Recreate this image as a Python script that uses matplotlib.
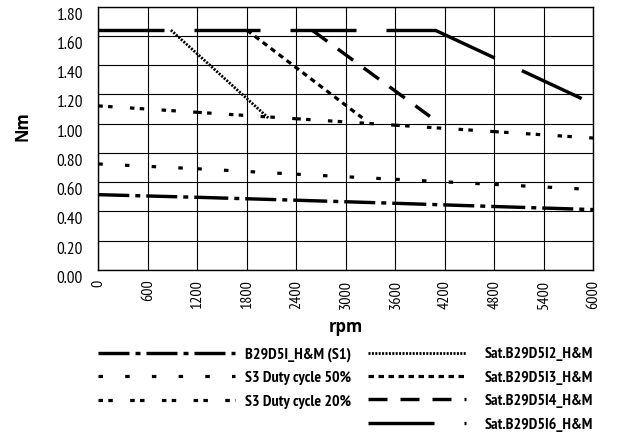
import matplotlib
matplotlib.use('agg')
import matplotlib.pyplot as plt
import matplotlib.transforms as mtransforms
from matplotlib import font_manager

## Torque curves (Nm) against speed (rpm)
rpm_ticks = [0, 600, 1200, 1800, 2400, 3000, 3600, 4200, 4800, 5400, 6000]
rpm_s = [0, 1200, 2400, 3600, 4800, 6000]
s1 = [0.515, 0.497, 0.477, 0.456, 0.434, 0.413]
s3_50 = [0.725, 0.692, 0.655, 0.620, 0.585, 0.550]
s3_20 = [1.122, 1.078, 1.034, 0.990, 0.946, 0.902]

sat_i2_rpm = [880, 2060]
sat_i2 = [1.64, 1.04]
sat_i3_rpm = [1800, 3200]
sat_i3 = [1.64, 1.04]
sat_i4_rpm = [2590, 4020]
sat_i4 = [1.64, 1.05]
sat_i6_rpm = [0, 4080, 6000]
sat_i6 = [1.64, 1.64, 1.135]

y_ticks = [0.0, 0.2, 0.4, 0.6, 0.8, 1.0, 1.2, 1.4, 1.6, 1.8]

PX = 0.72  # points per pixel at 100 dpi
installed = {f.name for f in font_manager.fontManager.ttflist}
wanted = ['PT Sans Narrow', 'Roboto Condensed', 'Archivo Narrow', 'Fira Sans Condensed',
          'IBM Plex Sans Condensed', 'Open Sans Condensed', 'Barlow Semi Condensed']
narrow = [f for f in wanted if f in installed][:1] + ['DejaVu Sans']

plt.rcParams['lines.scale_dashes'] = False
plt.rcParams['font.family'] = narrow


def draw(ax, xs, ys, label, lw, dashes):
    # dash pattern starts over at each data point
    for i in range(len(xs) - 1):
        ax.plot(xs[i:i + 2], ys[i:i + 2], color='black', lw=lw * PX,
                dashes=[d * PX for d in dashes],
                dash_capstyle='butt', solid_capstyle='butt',
                label=label if i == 0 else '_nolegend_')


fig = plt.figure(figsize=(6.18, 4.36), dpi=100)
ax = fig.add_axes([98.3 / 618, 1 - 270 / 436, 495 / 618, 263.3 / 436])

draw(ax, rpm_s, s1, 'B29D5I_H&M (S1)', 3.4, [31, 6, 5, 6])
draw(ax, rpm_s, s3_50, 'S3 Duty cycle 50%', 3.2, [4.5, 22.2])
draw(ax, rpm_s, s3_20, 'S3 Duty cycle 20%', 3.2, [4.5, 5.3, 4.5, 17.4])
draw(ax, sat_i2_rpm, sat_i2, 'Sat.B29D5I2_H&M', 2.8, [2, 1.4])
draw(ax, sat_i3_rpm, sat_i3, 'Sat.B29D5I3_H&M', 3.2, [5.5, 4.5])
draw(ax, sat_i4_rpm, sat_i4, 'Sat.B29D5I4_H&M', 3.4, [19, 13])
draw(ax, sat_i6_rpm, sat_i6, 'Sat.B29D5I6_H&M', 3.4, [66, 30])

ax.set_xlim(0, 6000)
ax.set_ylim(0, 1.8)
ax.set_xticks(rpm_ticks)
ax.set_xticklabels([str(t) for t in rpm_ticks], rotation=90, fontsize=11.5)
ax.set_yticks(y_ticks)
ax.set_yticklabels(['%.2f' % v for v in y_ticks], fontsize=12.5)
ax.tick_params(axis='x', length=0, pad=7)
ax.tick_params(axis='y', length=0, pad=11)
# labels sit a little below their grid lines
shift = mtransforms.ScaledTranslation(0, -7 / 100, fig.dpi_scale_trans)
for lab in ax.get_yticklabels():
    lab.set_transform(lab.get_transform() + shift)

ax.grid(True, color='black', lw=0.8)
ax.set_axisbelow(True)
for sp in ax.spines.values():
    sp.set_linewidth(1.0)
    sp.set_color('black')

ax.set_ylabel('Nm', fontsize=12, fontweight='bold', family=['Open Sans', 'DejaVu Sans'])
ax.yaxis.set_label_coords(-0.153, 0.547)
ax.yaxis.label.set_va('center')
ax.set_xlabel('rpm', fontsize=12, fontweight='bold', family=['Open Sans', 'DejaVu Sans'])
ax.xaxis.set_label_coords(0.5, -0.218)
ax.xaxis.label.set_va('center')

handles, labels = ax.get_legend_handles_labels()
prop = {'family': narrow, 'weight': 'bold', 'size': 11.5}
fs = 11.5 / PX
leg1 = fig.legend(handles[:3], labels[:3], loc='upper left',
                  bbox_to_anchor=(98 / 618, 1 - 347 / 436), frameon=False,
                  borderpad=0, borderaxespad=0, prop=prop,
                  handlelength=137 / fs, handletextpad=10 / fs, labelspacing=0.58)
leg2 = fig.legend(handles[3:], labels[3:], loc='upper left',
                  bbox_to_anchor=(368 / 618, 1 - 347 / 436), frameon=False,
                  borderpad=0, borderaxespad=0, prop=prop,
                  handlelength=98 / fs, handletextpad=19 / fs, labelspacing=0.58)

fig.savefig('out.png', dpi=100)
